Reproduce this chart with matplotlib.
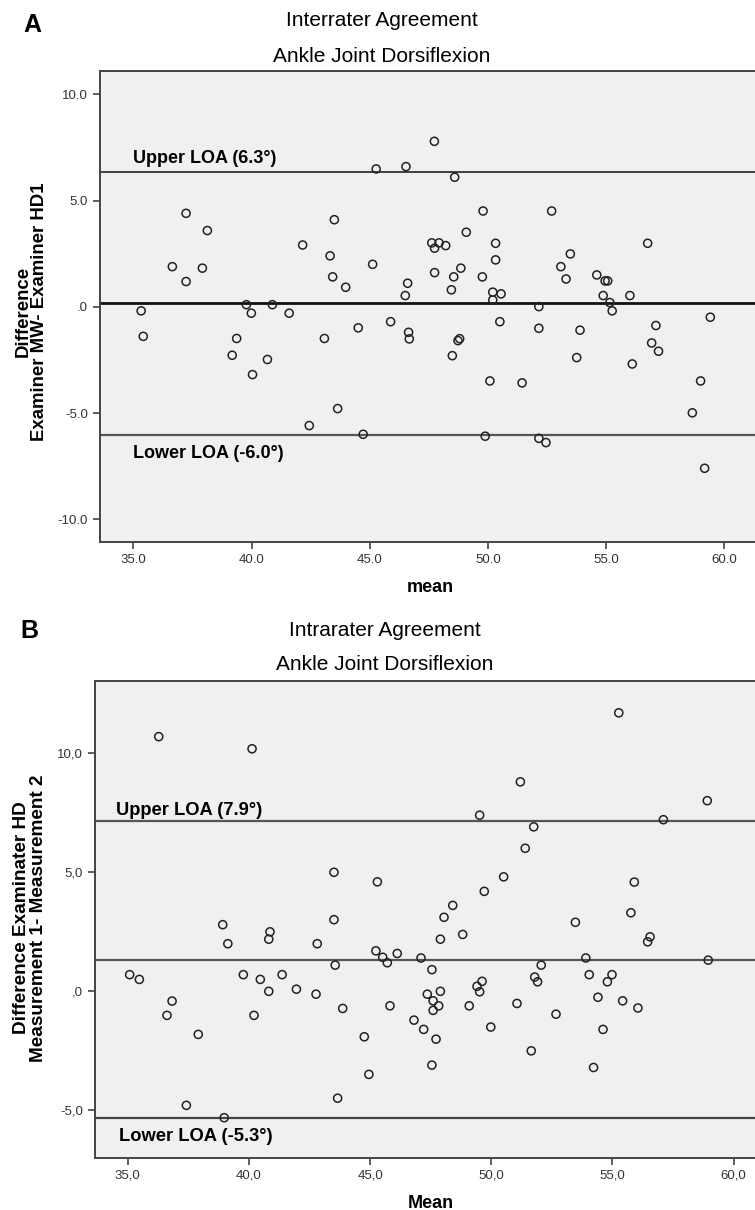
import matplotlib.pyplot as plt

plt.rcParams['font.family'] = ['Liberation Sans', 'DejaVu Sans']

# Panel A: interrater (mean, difference)
a_mean = [37.23, 38.13, 36.65, 37.92, 37.23, 42.16, 43.50, 43.32, 43.43, 43.98,
          45.12, 45.27, 47.73, 46.53, 48.59, 49.79, 52.69, 49.08, 47.62, 47.93,
          48.21, 47.74, 50.32, 50.32, 53.48, 53.08, 53.30, 56.75, 47.74, 48.55,
          48.85, 48.45, 49.76, 46.60, 46.50, 50.20, 50.55, 54.60, 54.95, 55.06,
          54.87, 56.00, 50.20, 45.88, 46.64, 46.67, 48.49, 48.73, 48.80, 50.08,
          51.44, 50.50, 52.15, 52.15, 53.89, 53.75, 55.15, 55.25, 56.10, 57.10,
          56.92, 57.21, 59.40, 58.99, 58.64, 59.16, 49.88, 52.15, 52.45, 35.33,
          35.42, 39.78, 39.99, 40.88, 41.59, 39.37, 39.18, 40.67, 40.04, 43.08,
          44.51, 43.64, 42.44, 44.72]
a_diff = [4.40, 3.59, 1.89, 1.82, 1.19, 2.91, 4.10, 2.40, 1.41, 0.92,
          2.00, 6.49, 7.79, 6.60, 6.10, 4.51, 4.51, 3.51, 3.01, 3.01,
          2.88, 2.76, 2.99, 2.21, 2.49, 1.89, 1.31, 2.99, 1.61, 1.41,
          1.82, 0.80, 1.41, 1.11, 0.53, 0.69, 0.61, 1.50, 1.22, 1.22,
          0.53, 0.53, 0.32, -0.70, -1.20, -1.51, -2.30, -1.59, -1.50, -3.49,
          -3.58, -0.70, 0.01, -1.01, -1.10, -2.39, 0.20, -0.19, -2.69, -0.88,
          -1.70, -2.09, -0.49, -3.49, -4.99, -7.60, -6.09, -6.19, -6.39, -0.19,
          -1.39, 0.10, -0.30, 0.10, -0.30, -1.49, -2.28, -2.48, -3.19, -1.49,
          -0.99, -4.79, -5.59, -6.00]
a_upper, a_bias, a_lower = 6.33, 0.17, -6.03

# Panel B: intrarater (mean, difference)
b_mean = [36.28, 40.13, 43.51, 45.30, 55.26, 51.20, 58.91, 49.52, 57.10, 51.75,
          51.40, 50.51, 49.71, 55.90, 48.41, 48.05, 48.82, 47.90, 53.47, 55.76,
          56.55, 56.45, 45.24, 45.52, 45.71, 46.12, 47.10, 47.55, 52.06, 53.90,
          58.95, 54.04, 54.98, 54.79, 51.79, 51.91, 49.62, 49.41, 49.52, 47.36,
          47.90, 47.60, 47.83, 47.60, 45.82, 49.09, 51.06, 52.67, 54.40, 55.42,
          56.05, 46.81, 47.21, 47.72, 49.98, 54.61, 51.65, 47.55, 54.22, 44.95,
          38.92, 39.13, 40.87, 40.82, 42.82, 43.51, 43.56, 35.08, 35.48, 39.77,
          40.47, 41.37, 40.82, 41.96, 42.77, 36.83, 36.62, 40.21, 43.87, 37.91,
          44.76, 43.66, 37.42, 38.98]
b_diff = [10.69, 10.18, 4.99, 4.59, 11.69, 8.79, 8.00, 7.39, 7.20, 6.90,
          6.00, 4.80, 4.19, 4.58, 3.60, 3.10, 2.38, 2.18, 2.89, 3.29,
          2.28, 2.07, 1.69, 1.42, 1.19, 1.58, 1.39, 0.90, 1.09, 1.39,
          1.30, 0.69, 0.69, 0.39, 0.59, 0.39, 0.41, 0.20, -0.03, -0.13,
          -0.01, -0.41, -0.62, -0.81, -0.62, -0.62, -0.52, -0.97, -0.26, -0.41,
          -0.71, -1.22, -1.61, -2.02, -1.51, -1.61, -2.51, -3.11, -3.21, -3.50,
          2.79, 1.99, 2.49, 2.18, 1.99, 3.00, 1.09, 0.69, 0.49, 0.69,
          0.49, 0.69, -0.01, 0.08, -0.13, -0.42, -1.02, -1.02, -0.73, -1.82,
          -1.92, -4.50, -4.80, -5.32]
b_upper, b_bias, b_lower = 7.14, 1.29, -5.35

W, H = 755, 1210
fig = plt.figure(figsize=(W / 100, H / 100), dpi=100)


def style_axes(ax):
    ax.set_facecolor('#f0f0f0')
    for s in ['left', 'bottom', 'top']:
        ax.spines[s].set_color('#444444')
        ax.spines[s].set_linewidth(1.4)
    ax.spines['right'].set_visible(False)
    ax.tick_params(direction='out', length=5, width=1.2, color='#444444',
                   labelsize=9.5, labelcolor='#333333')


# ---- panel A
ax1 = fig.add_axes([100 / W, 1 - 542 / H, 655 / W, 471 / H])
style_axes(ax1)
ax1.axhline(a_upper, color='#222222', lw=1.2, zorder=1)
ax1.axhline(a_bias, color='#111111', lw=2.0, zorder=1)
ax1.axhline(a_lower, color='#555555', lw=1.6, zorder=1)
ax1.scatter(a_mean, a_diff, s=34, facecolors='none', edgecolors='#222222',
            linewidths=1.1, zorder=3)
ax1.set_xlim(33.59, 61.29)
ax1.set_ylim(-11.07, 11.1)
ax1.set_xticks([35, 40, 45, 50, 55, 60])
ax1.set_xticklabels(['35.0', '40.0', '45.0', '50.0', '55.0', '60.0'])
ax1.set_yticks([-10, -5, 0, 5, 10])
ax1.set_yticklabels(['-10.0', '-5.0', '.0', '5.0', '10.0'])
ax1.text(35.0, 6.96, 'Upper LOA (6.3°)', fontsize=13, fontweight='bold',
         va='center', ha='left')
ax1.text(35.0, -6.92, 'Lower LOA (-6.0°)', fontsize=13, fontweight='bold',
         va='center', ha='left')
ax1.set_xlabel('mean', fontsize=13, fontweight='bold', ha='center', va='center')
ax1.xaxis.set_label_coords(0.5038, -0.097)
ax1.set_ylabel('Difference\nExaminer MW- Examiner HD1', fontsize=13.4,
               fontweight='bold', ha='center', va='center', linespacing=1.0)
ax1.yaxis.set_label_coords(-0.1046, 0.489)

fig.text(32 / W, 1 - 24.5 / H, 'A', fontsize=18, fontweight='bold',
         ha='center', va='center')
fig.text(382 / W, 1 - 21 / H, 'Interrater Agreement', fontsize=15,
         ha='center', va='center')
fig.text(382 / W, 1 - 56 / H, 'Ankle Joint Dorsiflexion', fontsize=15,
         ha='center', va='center')

# ---- panel B
ax2 = fig.add_axes([95 / W, 1 - 1157.7 / H, 660 / W, 477 / H])
style_axes(ax2)
ax2.axhline(b_upper, color='#555555', lw=1.6, zorder=1)
ax2.axhline(b_bias, color='#555555', lw=1.6, zorder=1)
ax2.axhline(b_lower, color='#444444', lw=1.6, zorder=1)
ax2.scatter(b_mean, b_diff, s=34, facecolors='none', edgecolors='#222222',
            linewidths=1.1, zorder=3)
ax2.set_xlim(33.65, 60.88)
ax2.set_ylim(-7.0, 13.04)
ax2.set_xticks([35, 40, 45, 50, 55, 60])
ax2.set_xticklabels(['35,0', '40,0', '45,0', '50,0', '55,0', '60,0'])
ax2.set_yticks([-5, 0, 5, 10])
ax2.set_yticklabels(['-5,0', ',0', '5,0', '10,0'])
ax2.text(34.52, 7.6, 'Upper LOA (7.9°)', fontsize=13.2, fontweight='bold',
         va='center', ha='left')
ax2.text(34.65, -6.12, 'Lower LOA (-5.3°)', fontsize=13.2, fontweight='bold',
         va='center', ha='left')
ax2.set_xlabel('Mean', fontsize=13, fontweight='bold', ha='center', va='center')
ax2.xaxis.set_label_coords(0.509, -0.0956)
ax2.set_ylabel('Difference Examinater HD\nMeasurement 1- Measurement 2',
               fontsize=13.7, fontweight='bold', ha='center', va='center',
               linespacing=1.0)
ax2.yaxis.set_label_coords(-0.0985, 0.5025)

fig.text(29 / W, 1 - 630.5 / H, 'B', fontsize=18, fontweight='bold',
         ha='center', va='center')
fig.text(385 / W, 1 - 631 / H, 'Intrarater Agreement', fontsize=15,
         ha='center', va='center')
fig.text(385 / W, 1 - 665 / H, 'Ankle Joint Dorsiflexion', fontsize=15,
         ha='center', va='center')

fig.savefig('out.png', dpi=100)
